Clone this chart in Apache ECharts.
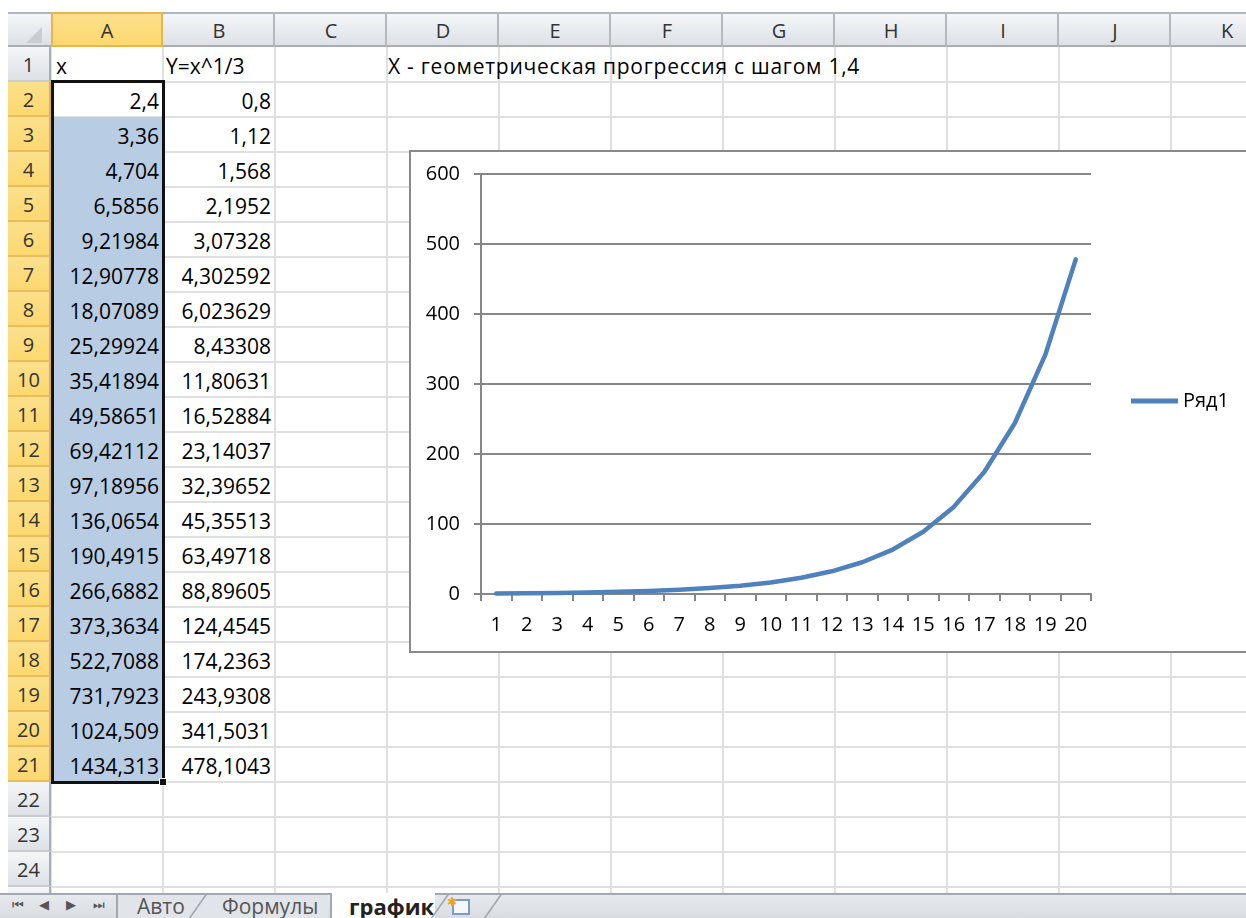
<!DOCTYPE html>
<html>
<head>
<meta charset="utf-8"/>
<title>график</title>
<script src="https://cdn.jsdelivr.net/npm/echarts@6/dist/echarts.min.js"></script>
<style>
    body { margin: 0; width: 1246px; height: 918px; overflow: hidden; background: #fff; position: relative; font-family: "Open Sans", sans-serif; }
    .abs { position: absolute; box-sizing: border-box; white-space: nowrap; }
    .hdr { background: linear-gradient(#f4f6f8, #dde1e6); color: #333; font-size: 20px; text-align: center; }
    .sel { background: linear-gradient(#fbe08c, #fdd86e); color: #333; font-size: 20px; text-align: center; }
    .cell { font-size: 21px; color: #000; }
    #chart { position: absolute; left: 409px; top: 150px; width: 900px; height: 503px; border: 2px solid #8a8a8a; box-sizing: border-box; background: #fff; }
    #tabs { position: absolute; left: 0; top: 893px; width: 1246px; height: 25px; background: linear-gradient(#e6e9ed, #d9dde2); border-top: 2px solid #a0a8b2; box-sizing: border-box; }
</style>
</head>
<body>
<div id="sheet"></div>
<div id="chart"></div>
<div id="tabs"></div>
<script>
    // данные листа
    var columns = ['A', 'B', 'C', 'D', 'E', 'F', 'G', 'H', 'I', 'J', 'K'];
    var headerX = 'x';
    var headerY = 'Y=x^1/3';
    var note = 'X - геометрическая прогрессия с шагом 1,4';
    var xValues = [2.4, 3.36, 4.704, 6.5856, 9.21984, 12.90778, 18.07089, 25.29924, 35.41894, 49.58651,
                   69.42112, 97.18956, 136.0654, 190.4915, 266.6882, 373.3634, 522.7088, 731.7923, 1024.509, 1434.313];
    var yValues = [0.8, 1.12, 1.568, 2.1952, 3.07328, 4.302592, 6.023629, 8.43308, 11.80631, 16.52884,
                   23.14037, 32.39652, 45.35513, 63.49718, 88.89605, 124.4545, 174.2363, 243.9308, 341.5031, 478.1043];
    var categories = ['1', '2', '3', '4', '5', '6', '7', '8', '9', '10',
                      '11', '12', '13', '14', '15', '16', '17', '18', '19', '20'];
    var seriesName = 'Ряд1';
    var sheetTabs = ['Авто', 'Формулы', 'график'];

    var COL0 = 51, COLW = 112, ROW0 = 47, ROWH = 35, ROWS = 25;
    var sheet = document.getElementById('sheet');

    function box(css, text, cls) {
        var d = document.createElement('div');
        d.className = 'abs' + (cls ? ' ' + cls : '');
        d.style.cssText = css;
        if (text != null) d.textContent = text;
        sheet.appendChild(d);
        return d;
    }
    function fmt(v) { return String(v).replace('.', ','); }

    // сетка
    for (var c = 0; c <= columns.length; c++) {
        box('left:' + (COL0 + c * COLW - 1) + 'px;top:' + ROW0 + 'px;width:2px;height:846px;background:#dfe0e2;');
    }
    for (var r = 1; r < ROWS; r++) {
        box('left:' + COL0 + 'px;top:' + (ROW0 + r * ROWH - 1) + 'px;width:1200px;height:2px;background:#dfe0e2;');
    }

    // выделение A3:A21
    box('left:' + COL0 + 'px;top:' + (ROW0 + 2 * ROWH) + 'px;width:' + COLW + 'px;height:' + (19 * ROWH) + 'px;background:#b8cce4;');

    // заголовки столбцов
    box('left:8px;top:12px;width:1238px;height:35px;border-top:2px solid #b0b6bd;border-bottom:2px solid #a9aeb5;', null, 'hdr');
    box('left:26px;top:27px;width:0;height:0;border-bottom:16px solid #c9cdd2;border-left:16px solid transparent;');
    columns.forEach(function (name, i) {
        var sel = i === 0;
        var d = box('left:' + (COL0 + i * COLW) + 'px;top:12px;width:' + COLW + 'px;height:35px;line-height:33px;' +
            'border:2px solid ' + (sel ? '#e9b54c' : 'transparent') + ';border-right:2px solid ' + (sel ? '#e9b54c' : '#b5bac0') + ';' +
            'color:#333;font-size:20px;text-align:center;', name, sel ? 'sel' : '');
    });

    // номера строк
    for (var r = 1; r <= ROWS; r++) {
        var sel = r >= 2 && r <= 21;
        box('left:8px;top:' + (ROW0 + (r - 1) * ROWH) + 'px;width:43px;height:' + ROWH + 'px;line-height:35px;' +
            'border-right:2px solid ' + (sel ? '#e2b04a' : '#a9aeb5') + ';border-bottom:2px solid ' + (sel ? '#eabd5c' : '#c8ccd1') + ';',
            r < ROWS ? String(r) : '', sel ? 'sel' : 'hdr');
    }

    // значения
    box('left:' + (COL0 + 5) + 'px;top:' + ROW0 + 'px;height:35px;line-height:38px;', headerX, 'cell');
    box('left:' + (COL0 + COLW + 3) + 'px;top:' + ROW0 + 'px;height:35px;line-height:38px;', headerY, 'cell');
    box('left:' + (COL0 + 3 * COLW + 1) + 'px;top:' + ROW0 + 'px;height:35px;line-height:38px;letter-spacing:0.75px;', note, 'cell');
    xValues.forEach(function (v, i) {
        var top = ROW0 + (i + 1) * ROWH;
        box('left:' + COL0 + 'px;top:' + top + 'px;width:' + (COLW - 4) + 'px;height:35px;line-height:38px;text-align:right;', fmt(v), 'cell');
        box('left:' + (COL0 + COLW) + 'px;top:' + top + 'px;width:' + (COLW - 4) + 'px;height:35px;line-height:38px;text-align:right;', fmt(yValues[i]), 'cell');
    });

    // рамка активного диапазона
    box('left:51px;top:80px;width:114px;height:704px;border:3px solid #111;');
    box('left:159px;top:778px;width:8px;height:8px;background:#111;border:1px solid #fff;');

    // ярлыки листов
    var tabs = document.getElementById('tabs');
    var nav = ['⏮', '◀', '▶', '⏭'];
    var navHtml = '';
    nav.forEach(function (s, i) {
        navHtml += '<div class="abs" style="left:' + (12 + i * 27) + 'px;top:2px;font-size:13px;color:#555;font-family:\'DejaVu Sans\';">' + s + '</div>';
    });
    tabs.innerHTML = navHtml +
        '<div class="abs" style="left:116px;top:0;width:212px;height:25px;border-left:2px solid #a0a8b2;background:#e1e5ea;"></div>' +
        '<div class="abs" style="left:137px;top:-3px;font-size:21px;color:#555;">' + sheetTabs[0] + '</div>' +
        '<div class="abs" style="left:195px;top:0;width:2px;height:28px;background:#a0a8b2;transform:skewX(-35deg);"></div>' +
        '<div class="abs" style="left:222px;top:-3px;font-size:21px;color:#555;">' + sheetTabs[1] + '</div>' +
        '<div class="abs" style="left:330px;top:-2px;width:105px;height:27px;background:#fff;border-left:2px solid #a0a8b2;"></div>' +
        '<div class="abs" style="left:349px;top:-4px;font-size:22px;font-weight:bold;color:#222;">' + sheetTabs[2] + '</div>' +
        '<div class="abs" style="left:437px;top:0;width:2px;height:28px;background:#a0a8b2;transform:skewX(-35deg);"></div>' +
        '<div class="abs" style="left:452px;top:4px;width:18px;height:16px;border:2px solid #7a9cc6;background:#f4f8fc;"></div>' +
        '<div class="abs" style="left:447px;top:-2px;font-size:12px;color:#f0a020;">✱</div>' +
        '<div class="abs" style="left:490px;top:0;width:2px;height:28px;background:#a0a8b2;transform:skewX(-35deg);"></div>';

    // график
    var myChart = echarts.init(document.getElementById('chart'));
    var option = {
        animation: false,
        textStyle: { fontFamily: 'Open Sans' },
        grid: { left: 70, top: 22, width: 610, height: 420 },
        legend: {
            left: 715,
            top: 234,
            icon: 'rect',
            itemWidth: 47,
            itemHeight: 5,
            data: [seriesName],
            textStyle: { fontSize: 20, color: '#000' }
        },
        xAxis: {
            type: 'category',
            data: categories,
            boundaryGap: true,
            axisLine: { lineStyle: { color: '#868686', width: 2 } },
            axisTick: { show: true, length: 7, lineStyle: { color: '#868686', width: 2 } },
            axisLabel: { fontSize: 20, color: '#000', margin: 21, interval: 0 }
        },
        yAxis: {
            type: 'value',
            min: 0,
            max: 600,
            interval: 100,
            axisLine: { show: true, lineStyle: { color: '#868686', width: 2 } },
            axisTick: { show: true, length: 7, lineStyle: { color: '#868686', width: 2 } },
            axisLabel: { fontSize: 20, color: '#000', margin: 21 },
            splitLine: { lineStyle: { color: '#868686', width: 2 } }
        },
        series: [{
            name: seriesName,
            type: 'line',
            data: yValues,
            symbol: 'none',
            lineStyle: { color: '#4f81bd', width: 4.5, cap: 'round', join: 'round' },
            itemStyle: { color: '#4f81bd' }
        }]
    };
    myChart.setOption(option);
</script>
</body>
</html>
